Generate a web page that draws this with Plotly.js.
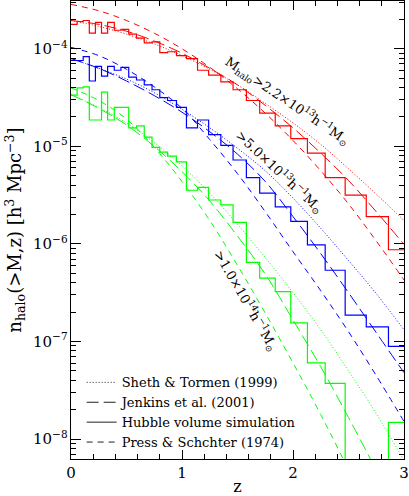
<!DOCTYPE html>
<html>
<head>
<meta charset="utf-8">
<script src="https://cdn.plot.ly/plotly-3.0.1.min.js"></script>
<style>
  html, body { margin: 0; padding: 0; background: #fff; }
  #chart { width: 409px; height: 496px; }
</style>
</head>
<body>
<div id="chart"></div>
<script>
// Model curves sampled on a redshift grid, values are log10 n_halo
const zModel = [0, 0.25, 0.5, 0.75, 1.0, 1.25, 1.5, 1.75, 2.0, 2.25, 2.5, 2.75, 3.0];

// M > 2.2e13
const redST   = [-3.71, -3.77, -3.85, -3.95, -4.07, -4.21, -4.37, -4.56, -4.76, -4.98, -5.23, -5.49, -5.76];
const redJenk = [-3.71, -3.75, -3.82, -3.92, -4.045, -4.20, -4.37, -4.58, -4.81, -5.07, -5.35, -5.67, -6.005];
const redPS   = [-3.545, -3.61, -3.71, -3.84, -4.00, -4.19, -4.41, -4.66, -4.94, -5.25, -5.59, -5.97, -6.37];

// M > 5.0e13
const blueST   = [-4.10, -4.20, -4.31, -4.45, -4.62, -4.81, -5.02, -5.25, -5.53, -5.84, -6.17, -6.51, -6.88];
const blueJenk = [-4.10, -4.20, -4.33, -4.48, -4.65, -4.85, -5.08, -5.36, -5.72, -6.10, -6.50, -6.91, -7.32];
const bluePS   = [-3.985, -4.07, -4.21, -4.39, -4.61, -4.93, -5.28, -5.67, -6.08, -6.48, -6.90, -7.35, -7.82];

// M > 1.0e14
const greenST   = [-4.47, -4.60, -4.76, -4.96, -5.20, -5.48, -5.80, -6.14, -6.50, -6.88, -7.30, -7.74, -8.22];
const greenJenk = [-4.47, -4.61, -4.78, -5.00, -5.26, -5.56, -5.92, -6.31, -6.78, -7.26, -7.78, -8.32, -8.88];
const greenPS   = [-4.40, -4.53, -4.72, -5.01, -5.36, -5.76, -6.22, -6.71, -7.22, -7.75, -8.32, -8.95, -9.60];

// Hubble volume simulation histograms (bin edges in z, log10 n per bin, null = empty bin)
const zEdges = [0, 0.055, 0.11, 0.165, 0.22, 0.275, 0.33, 0.39, 0.45, 0.52, 0.59, 0.66, 0.73, 0.80, 0.87,
                0.95, 1.04, 1.14, 1.24, 1.35, 1.46, 1.58, 1.70, 1.84, 1.98, 2.13, 2.29, 2.47, 2.66, 2.86, 3.06];
const redSim = [-3.75, -3.72, -3.71, -3.84, -3.73, -3.84, -3.73, -3.81, -3.80, -3.85, -3.89, -3.94, -3.93, -4.04, -4.03,
                -4.07, -4.10, -4.22, -4.27, -4.34, -4.42, -4.53, -4.66, -4.79, -4.92, -5.07, -5.32, -5.50, -5.72, -6.06];
const blueSim = [-4.12, -4.12, -4.08, -4.33, -4.18, -4.28, -4.18, -4.22, -4.19, -4.29, -4.32, -4.37, -4.42, -4.50, -4.53,
                 -4.60, -4.81, -4.73, -4.88, -4.99, -5.14, -5.32, -5.48, -5.62, -5.77, -6.01, -6.27, -6.73, -6.85, -7.05];
const greenSim = [-4.475, -4.40, -4.39, -4.73, -4.73, -4.445, -4.73, -4.60, -4.60, -4.81, -4.79, -4.905, -5.01, -5.06, -5.10,
                  -5.16, -5.45, -5.42, -5.55, -5.60, -5.78, -6.19, -6.35, -6.49, -6.81, -7.22, -7.43, null, null, -7.83];

const legendNames = ['Sheth & Tormen (1999)', 'Jenkins et al. (2001)', 'Hubble volume simulation', 'Press & Schchter (1974)'];

const DOT = '1px,2px';
const LONGDASH = '12px,5px';
const SHORTDASH = '6px,5px';

function toLin(arr) {
    // empty bins drop far below the axis
    return arr.map(v => v === null ? 1e-14 : Math.pow(10, v));
}

function modelTrace(vals, color, dash) {
    return {
        x: zModel, y: toLin(vals), mode: 'lines', type: 'scatter', showlegend: false,
        line: { color: color, width: 1, dash: dash, shape: 'spline' }, hoverinfo: 'skip'
    };
}

function simTrace(vals, color) {
    const y = toLin(vals);
    y.push(y[y.length - 1]);
    return {
        x: zEdges, y: y, mode: 'lines', type: 'scatter', showlegend: false,
        line: { color: color, width: 1.2, shape: 'hv' }, hoverinfo: 'skip'
    };
}

function legendTrace(name, dash) {
    return {
        x: [null], y: [null], mode: 'lines', type: 'scatter', name: name,
        line: { color: '#222', width: 1, dash: dash }
    };
}

const RED = '#ff0000', BLUE = '#0000ff', GREEN = '#00ff00';

const traces = [
    modelTrace(redST, RED, DOT), modelTrace(redJenk, RED, LONGDASH), modelTrace(redPS, RED, SHORTDASH), simTrace(redSim, RED),
    modelTrace(blueST, BLUE, DOT), modelTrace(blueJenk, BLUE, LONGDASH), modelTrace(bluePS, BLUE, SHORTDASH), simTrace(blueSim, BLUE),
    modelTrace(greenST, GREEN, DOT), modelTrace(greenJenk, GREEN, LONGDASH), modelTrace(greenPS, GREEN, SHORTDASH), simTrace(greenSim, GREEN),
    legendTrace(legendNames[0], DOT),
    legendTrace(legendNames[1], LONGDASH),
    legendTrace(legendNames[2], 'solid'),
    legendTrace(legendNames[3], SHORTDASH)
];

const FONT = 'DejaVu Serif, Liberation Serif, serif';

const layout = {
    width: 409, height: 496,
    margin: { l: 71, r: 5, t: 1, b: 37 },
    paper_bgcolor: '#fff', plot_bgcolor: '#fff',
    font: { family: FONT, color: '#000', size: 13 },
    showlegend: true,
    legend: {
        x: 0.032, y: 0.2, xanchor: 'left', yanchor: 'top',
        bgcolor: 'rgba(0,0,0,0)', borderwidth: 0, traceorder: 'normal',
        font: { family: FONT, size: 13, color: '#000' }
    },
    xaxis: {
        range: [0, 3], showgrid: false, zeroline: false,
        showline: true, linecolor: '#000', linewidth: 1, mirror: 'ticks',
        ticks: 'inside', ticklen: 9, tickcolor: '#000', dtick: 1, tick0: 0,
        tickfont: { family: FONT, size: 15 },
        minor: { ticks: 'inside', ticklen: 5, tickcolor: '#000', dtick: 0.2, showgrid: false },
        title: { text: 'z', font: { family: FONT, size: 16 }, standoff: 8 }
    },
    yaxis: {
        type: 'log', range: [-8.205, -3.51], showgrid: false, zeroline: false,
        showline: true, linecolor: '#000', linewidth: 1, mirror: 'ticks',
        ticks: 'inside', ticklen: 10, tickcolor: '#000', dtick: 1, exponentformat: 'power',
        tickfont: { family: FONT, size: 12 },
        minor: { ticks: 'inside', ticklen: 5, tickcolor: '#000', dtick: 'D1', showgrid: false },
        title: { text: 'n<sub>halo</sub>(>M,z) [h<sup>3</sup> Mpc<sup>\u22123</sup>]', font: { family: FONT, size: 18 }, standoff: 6 }
    },
    annotations: [
        { x: 1.95, y: -4.54, xref: 'x', yref: 'y', showarrow: false, textangle: 34,
          text: 'M<sub>halo</sub>>2.2\u00d710<sup>13</sup>h<sup>\u22121</sup>M<sub>\u2299</sub>',
          font: { family: FONT, size: 13 } },
        { x: 1.88, y: -5.26, xref: 'x', yref: 'y', showarrow: false, textangle: 43,
          text: '>5.0\u00d710<sup>13</sup>h<sup>\u22121</sup>M<sub>\u2299</sub>',
          font: { family: FONT, size: 13 } },
        { x: 1.57, y: -6.58, xref: 'x', yref: 'y', showarrow: false, textangle: 60,
          text: '>1.0\u00d710<sup>14</sup>h<sup>\u22121</sup>M<sub>\u2299</sub>',
          font: { family: FONT, size: 13 } }
    ]
};

Plotly.newPlot('chart', traces, layout, { displayModeBar: false, staticPlot: true });
</script>
</body>
</html>
